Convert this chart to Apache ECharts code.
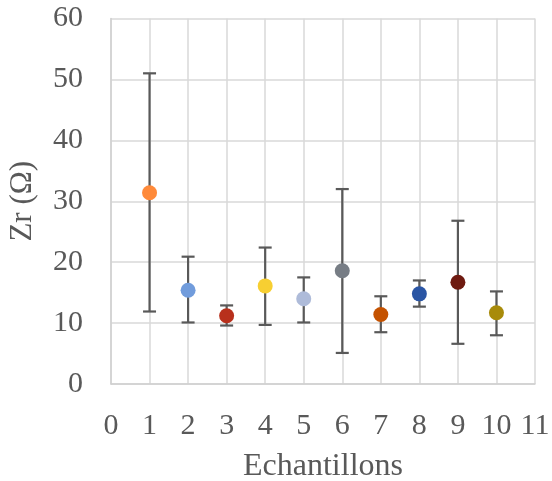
<!DOCTYPE html>
<html>
<head>
<meta charset="utf-8">
<script src="https://cdn.jsdelivr.net/npm/echarts@6/dist/echarts.min.js"></script>
<style>html,body{margin:0;padding:0;background:#fff}#c{width:552px;height:481px}</style>
</head>
<body>
<div id="c"></div>
<script>
const samples = [1, 2, 3, 4, 5, 6, 7, 8, 9, 10];
const means = [31.4, 15.4, 11.2, 16.1, 14.0, 18.6, 11.4, 14.8, 16.7, 11.7];
const upper = [51.0, 20.9, 12.9, 22.4, 17.5, 32.0, 14.4, 17.0, 26.8, 15.2];
const lower = [11.9, 10.1, 9.6, 9.7, 10.1, 5.1, 8.5, 12.7, 6.6, 8.0];
const pointColors = ['#FF8A3A', '#719CDC', '#B8301C', '#F7CF32', '#AEBBD9', '#777D85', '#C45200', '#2A55A4', '#6E1A10', '#A88B0A'];

const font = 'Liberation Serif';
const textColor = '#595959';

const chart = echarts.init(document.getElementById('c'));
chart.setOption({
  animation: false,
  grid: { left: 111, right: 17, top: 18.5, bottom: 97, containLabel: false, outerBoundsMode: 'none' },
  xAxis: {
    type: 'value', min: 0, max: 11, interval: 1,
    name: 'Echantillons', nameLocation: 'middle', nameGap: 67,
    nameTextStyle: { fontFamily: font, fontSize: 32, color: textColor },
    axisLine: { lineStyle: { color: '#D0D0D0', width: 1.5 } },
    axisTick: { show: false },
    axisLabel: { fontFamily: font, fontSize: 30, color: textColor, margin: 27 },
    splitLine: { show: true, lineStyle: { color: '#D9D9D9', width: 1.5 } }
  },
  yAxis: {
    type: 'value', min: 0, max: 60, interval: 10,
    name: 'Zr (Ω)', nameLocation: 'middle', nameGap: 73,
    nameTextStyle: { fontFamily: font, fontSize: 31, color: textColor },
    axisLine: { show: true, lineStyle: { color: '#D0D0D0', width: 1.5 } },
    axisTick: { show: false },
    axisLabel: { fontFamily: font, fontSize: 30, color: textColor, margin: 28 },
    splitLine: { show: true, lineStyle: { color: '#D9D9D9', width: 1.5 } }
  },
  series: [
    {
      type: 'custom',
      z: 2,
      data: samples.map((x, i) => [x, lower[i], upper[i]]),
      renderItem: function (params, api) {
        const x = api.value(0);
        const lo = api.coord([x, api.value(1)]);
        const hi = api.coord([x, api.value(2)]);
        const hw = 6.5;
        const style = { stroke: '#595959', lineWidth: 2.2 };
        return {
          type: 'group',
          children: [
            { type: 'line', shape: { x1: lo[0], y1: lo[1], x2: hi[0], y2: hi[1] }, style: style },
            { type: 'line', shape: { x1: hi[0] - hw, y1: hi[1], x2: hi[0] + hw, y2: hi[1] }, style: style },
            { type: 'line', shape: { x1: lo[0] - hw, y1: lo[1], x2: lo[0] + hw, y2: lo[1] }, style: style }
          ]
        };
      }
    },
    {
      type: 'scatter',
      z: 3,
      symbolSize: 15,
      data: samples.map((x, i) => ({ value: [x, means[i]], itemStyle: { color: pointColors[i], opacity: 1 } }))
    }
  ]
});
</script>
</body>
</html>
